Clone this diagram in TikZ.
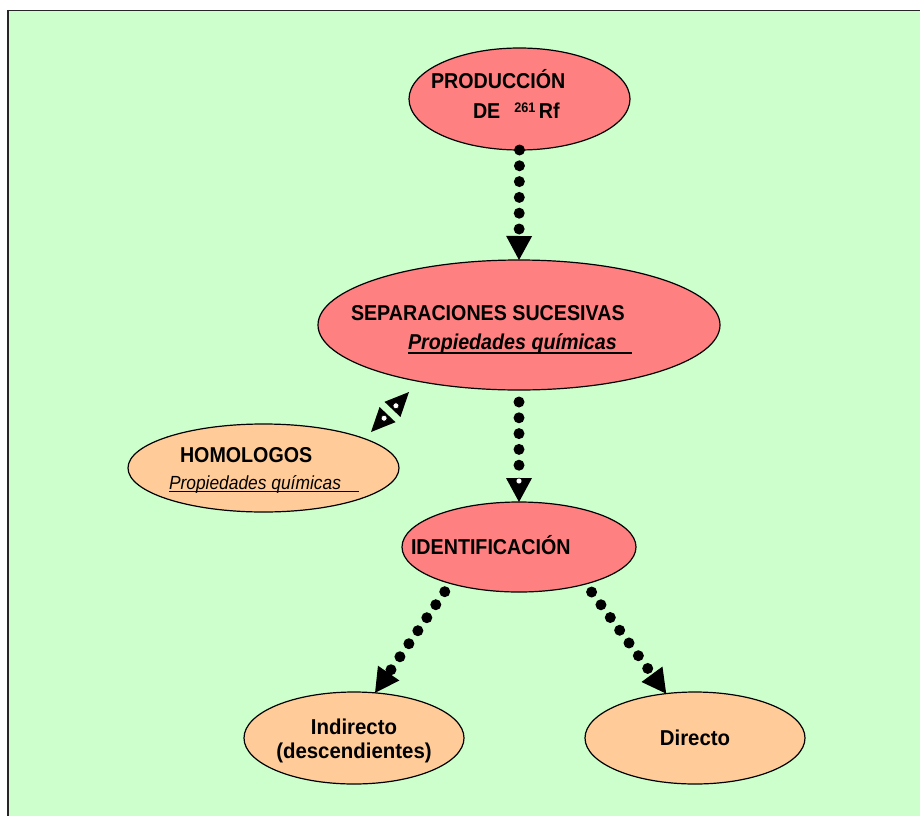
\documentclass[tikz,border=0pt]{standalone}
\usepackage{fontspec}
\setmainfont{Liberation Sans}
\newfontfamily\labelfont[FakeStretch=0.915]{Liberation Sans}
\newfontfamily\lowfont[FakeStretch=0.95]{Liberation Sans}
\usetikzlibrary{arrows.meta,calc,shapes.geometric}
\definecolor{bggreen}{HTML}{CCFFCC}
\definecolor{rosered}{HTML}{FF8080}
\definecolor{peach}{HTML}{FFCC99}
\begin{document}
\begin{tikzpicture}[x=1pt,y=-1pt,
  oval/.style={ellipse, draw=black, line width=1.2pt, inner sep=0pt, outer sep=0pt},
  redoval/.style={oval, fill=rosered},
  peachoval/.style={oval, fill=peach},
  txt/.style={inner sep=0pt, outer sep=0pt, anchor=base west,
    font=\labelfont\bfseries\fontsize{21.5pt}{24pt}\selectfont},
  btxt/.style={inner sep=0pt, outer sep=0pt, anchor=base,
    font=\lowfont\bfseries\fontsize{21.5pt}{24pt}\selectfont},
  dotlink/.style={line width=11pt, line cap=round, dash pattern=on 0pt off 15.8pt,
    -{Triangle[length=24pt,width=26pt,line width=0pt]}},
  holedot/.style={circle, fill=white, draw=black, line width=0.6pt,
    minimum size=6pt, inner sep=0pt}
]
\useasboundingbox (0,0) rectangle (920,816);
% page background and frame
\fill[bggreen] (8,10.5) rectangle (920,816);
\draw[line width=1.5pt, black!85] (7,10.7) -- (920,10.7);
\draw[line width=2.5pt, black!85] (8,10) -- (8,816);

% ovals
\node[redoval, minimum width=221pt, minimum height=102pt] (prod) at (519.5,99) {};
\node[redoval, minimum width=402pt, minimum height=130pt] (sep) at (519,325) {};
\node[peachoval, minimum width=271pt, minimum height=88pt] (homol) at (263.5,468) {};
\node[redoval, minimum width=234pt, minimum height=90pt] (ident) at (519,547) {};
\node[peachoval, minimum width=220pt, minimum height=92pt] (indir) at (354,738) {};
\node[peachoval, minimum width=220pt, minimum height=92pt] (direct) at (695,738) {};

% labels
\node[txt] (prodA) at (431,88) {PRODUCCIÓN};
\node[txt] (prodB) at (473,118) {DE\hspace{14pt}\raisebox{5.5pt}{\fontsize{13.8pt}{15pt}\selectfont 261}\hspace{3.5pt}Rf};
\node[txt] (sepA) at (351,320) {SEPARACIONES SUCESIVAS};
\node[txt, font=\labelfont\bfseries\itshape\fontsize{21.5pt}{24pt}\selectfont] (sepB) at (408,349.5) {Propiedades químicas};
\draw[line width=2.5pt] ([yshift=-3.5pt]sepB.base west) -- ++(224,0);
\node[txt] (homA) at (180,462) {HOMOLOGOS};
\node[txt, font=\labelfont\itshape\fontsize{19pt}{22pt}\selectfont] (homB) at (169,489) {Propiedades químicas};
\draw[line width=1.2pt] ([yshift=-2.5pt]homB.base west) -- ++(190,0);
\node[txt] (identA) at (411,554) {IDENTIFICACIÓN};
\node[btxt] (indirA) at (354,734) {Indirecto};
\node[btxt] (indirB) at (354,758) {(descendientes)};
\node[btxt] (directA) at (695,745) {Directo};

% dotted connectors
\draw[dotlink] (prod.south) -- (sep.north);
\draw[dotlink, shorten <=12pt] (sep.south) -- (ident.north);
\node[holedot] (hole1) at ($(ident.north)!21pt!(sep.south)$) {};
\draw[dotlink, shorten <=10pt] (ident.208.2) -- (indir.65.1);
\draw[dotlink, shorten <=10pt] (ident.331.8) -- (direct.123.3);

% two-way link between the separations and the homologues
\coordinate (hs) at ($(sep.center)+(-110,67)$);
\coordinate (hh) at ($(homol.center)+(107.5,-36)$);
\draw[line width=9pt, dash pattern=on 0pt off 100pt, dash phase=50pt,
  {Triangle[length=24pt,width=22pt,line width=0pt]}-{Triangle[length=24pt,width=22pt,line width=0pt]}]
  (hh) -- (hs);
\node[holedot] (hole2) at ($(hs)!19pt!(hh)$) {};
\node[holedot] (hole3) at ($(hh)!19pt!(hs)$) {};
\end{tikzpicture}
\end{document}
